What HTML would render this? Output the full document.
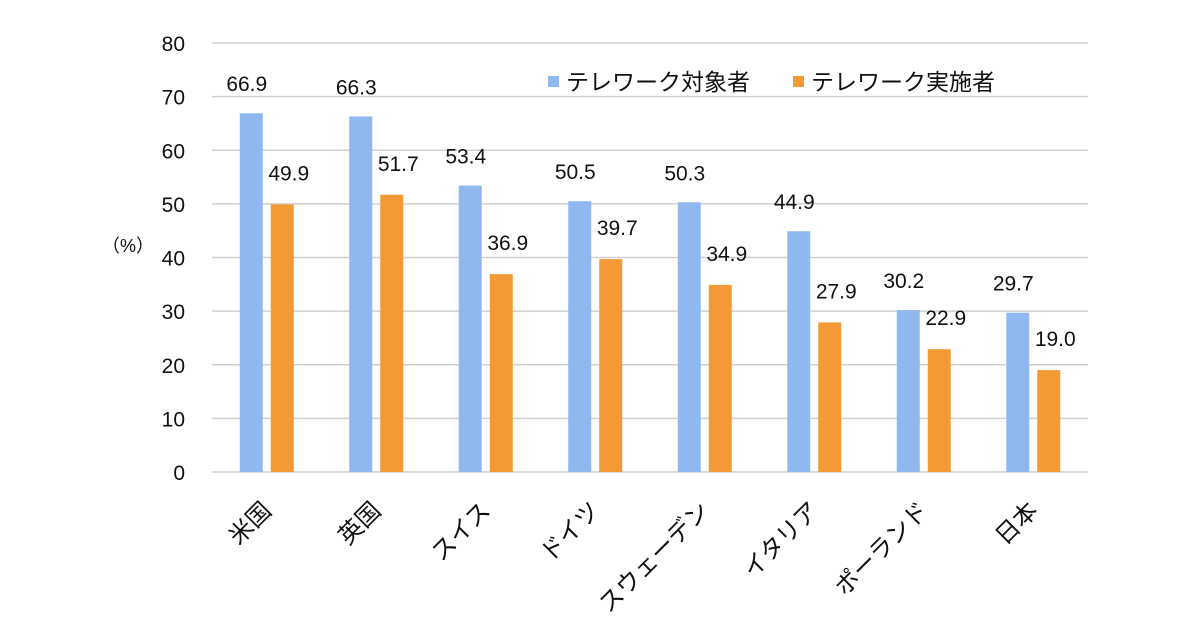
<!DOCTYPE html>
<html><head><meta charset="utf-8"><style>
body{margin:0;background:#fff}
text{font-family:"Liberation Sans","Noto Sans CJK JP",sans-serif;fill:#111}
</style></head><body>
<svg id="c" width="1200" height="630"></svg>
<script>
const categories=["米国","英国","スイス","ドイツ","スウェーデン","イタリア","ポーランド","日本"];
const targetValues=[66.9,66.3,53.4,50.5,50.3,44.9,30.2,29.7];
const implValues=[49.9,51.7,36.9,39.7,34.9,27.9,22.9,19.0];
const yTicks=[0,10,20,30,40,50,60,70,80];
const NS="http://www.w3.org/2000/svg";
const svg=document.getElementById('c');
const L=212,R=1088,B=472,T=43,yMax=80;
const y=v=>B-(v/yMax)*(B-T);
const bw=(R-L)/categories.length;
const cx=i=>L+bw*(i+0.5);
function mk(t,a,txt){const e=document.createElementNS(NS,t);for(const k in a)e.setAttribute(k,a[k]);if(txt!=null)e.textContent=txt;svg.appendChild(e);return e;}
yTicks.forEach(v=>{
 const g=mk('line',{x1:L,x2:R,y1:y(v),y2:y(v),stroke:'#d0d0d0','stroke-width':1.5});
 
 
 const t=mk('text',{x:185,y:y(v)+8,'text-anchor':'end','font-size':21},String(v));
 
 
});
const yt=mk('text',{x:128,y:252,'text-anchor':'middle','font-size':18},'（%）');


categories.forEach((c,i)=>{
 const x=cx(i);
 const b1=mk('rect',{x:x-27,y:y(targetValues[i]),width:23,height:B-y(targetValues[i]),fill:'#8fb8f0'});
 
 
 const b2=mk('rect',{x:x+4,y:y(implValues[i]),width:23,height:B-y(implValues[i]),fill:'#f39a36'});
 
 
 const l1=mk('text',{x:x-20,y:y(targetValues[i])-22,'text-anchor':'middle','font-size':21},targetValues[i].toFixed(1));
 
 
 const l2=mk('text',{x:x+22,y:y(implValues[i])-24,'text-anchor':'middle','font-size':21},implValues[i].toFixed(1));
 
 
 const cl=mk('text',{x:x+6,y:B+40,'text-anchor':'end','font-size':24,transform:`rotate(-45 ${x+6} ${B+40})`},c);
 
 
});
const s1=mk('rect',{x:548,y:76,width:11,height:11,fill:'#8fb8f0'});


const t1=mk('text',{x:566,y:90,'font-size':23},'テレワーク対象者');


const s2=mk('rect',{x:793,y:76,width:11,height:11,fill:'#f39a36'});


const t2=mk('text',{x:811,y:90,'font-size':23},'テレワーク実施者');


</script>
</body></html>
